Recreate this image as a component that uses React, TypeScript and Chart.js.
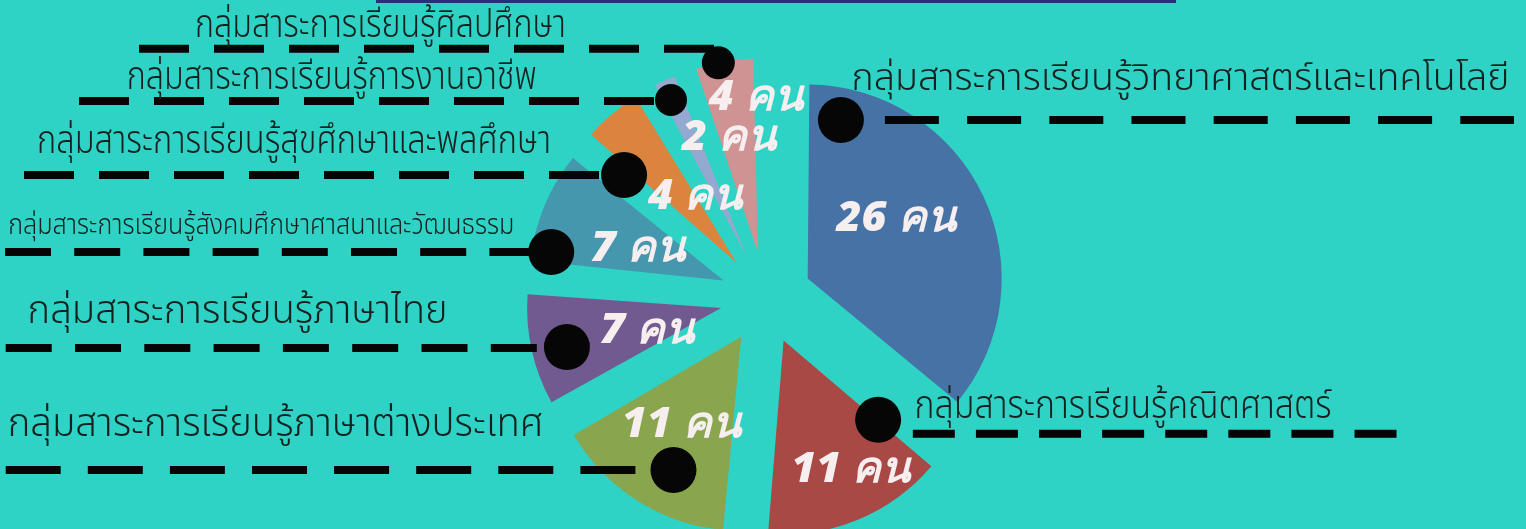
import React, { useEffect, useRef } from 'react';
import { Chart, registerables } from 'chart.js';

Chart.register(...registerables);

// ---------- data ----------
const categories = [
  'กลุ่มสาระการเรียนรู้วิทยาศาสตร์และเทคโนโลยี',
  'กลุ่มสาระการเรียนรู้คณิตศาสตร์',
  'กลุ่มสาระการเรียนรู้ภาษาต่างประเทศ',
  'กลุ่มสาระการเรียนรู้ภาษาไทย',
  'กลุ่มสาระการเรียนรู้สังคมศึกษาศาสนาและวัฒนธรรม',
  'กลุ่มสาระการเรียนรู้สุขศึกษาและพลศึกษา',
  'กลุ่มสาระการเรียนรู้การงานอาชีพ',
  'กลุ่มสาระการเรียนรู้ศิลปศึกษา',
];
const teachers = [26, 11, 11, 7, 7, 4, 2, 4];
const unit = 'คน';

// ---------- styles / layout ----------
const sliceColors = ['#4672a6', '#a84946', '#89a54e', '#705a8f', '#4497ad', '#db843d', '#93a9cf', '#d09393'];
const BG = '#2ed3c5';
const PIE_RADIUS = 194;
const EXPLODE = 46;
// value label: [fraction along slice angle, fraction of radius from slice tip]
const valuePos = [[0.43, 0.55], [0.41, 0.75], [0.53, 0.55], [0.36, 0.4], [0.43, 0.47], [0.89, 0.4], [2.16, 0.62], [0.96, 0.8]];
// dot anchor: same convention
const dotPos = [[0.091, 0.835], [0.0, 0.636], [0.4, 0.77], [0.45, 0.82], [0.124, 0.9], [-0.1, 0.735], [0.42, 0.895], [0.41, 1.0]];
const dotRadius = [23, 23, 23, 23, 23, 23, 16, 16.5];
// leader lines: side, vertical shift from dot, far end x (left side: start, right side: end), near gap, dash, gap
const lineSide = ['right', 'right', 'left', 'left', 'left', 'left', 'left', 'left'];
const lineDy = [0, 14, 0, 1, 0, 0, 1, -14];
const lineFar = [1514, 1397, 5.7, 5.7, 5, 24, 79, 139];
const lineNearGap = [44, 34.7, 0, 0, 0, 0, 0, 0];
const lineDash = [[54, 28.2], [42, 21.1], [55, 27.1], [46, 23.3], [46, 23.2], [50, 25], [50, 25], [50, 25]];
// category text: left x, target width, baseline distance above line, font size
const textX = [851.5, 914.6, 7.7, 27.6, 8.3, 37, 126.7, 195];
const textW = [658, 417, 536, 420, 506, 514, 410, 371];
const textGap = [30, 16, 34, 25, 18.4, 22, 12, 11.3];
const textSize = [37, 40, 40, 40, 28, 40, 40, 40];

function sliceGeom(arc: any) {
  const s = arc.startAngle;
  const e = arc.endAngle;
  const half = (s + e) / 2;
  const tipX = arc.x + Math.cos(half) * EXPLODE;
  const tipY = arc.y + Math.sin(half) * EXPLODE;
  return {
    at(t: number, rf: number) {
      const a = s + t * (e - s);
      return { x: tipX + Math.cos(a) * rf * PIE_RADIUS, y: tipY + Math.sin(a) * rf * PIE_RADIUS };
    },
  };
}

const flatOffset = {
  id: 'flatOffset',
  beforeDatasetsDraw(chart: any) {
    const meta = chart.getDatasetMeta(0);
    meta.data.forEach((arc: any) => {
      const circ = arc.endAngle - arc.startAngle;
      const fix = 1 - Math.sin(Math.min(Math.PI, circ));
      arc.outerRadius = PIE_RADIUS - EXPLODE * fix;
    });
  },
};

function scaledText(ctx: CanvasRenderingContext2D, text: string, x: number, y: number, width: number) {
  const m = ctx.measureText(text).width || 1;
  ctx.save();
  ctx.translate(x, y);
  ctx.scale(width / m, 1);
  ctx.fillText(text, 0, 0);
  ctx.restore();
}

const annotations = {
  id: 'annotations',
  afterDatasetsDraw(chart: any) {
    const ctx: CanvasRenderingContext2D = chart.ctx;
    const meta = chart.getDatasetMeta(0);
    ctx.save();
    // value labels
    ctx.fillStyle = '#f7efef';
    ctx.font = 'italic 900 43px "Noto Sans", sans-serif';
    ctx.textAlign = 'center';
    ctx.textBaseline = 'middle';
    meta.data.forEach((arc: any, i: number) => {
      const g = sliceGeom(arc);
      const p = g.at(valuePos[i][0], valuePos[i][1]);
      ctx.fillText(`${teachers[i]} ${unit}`, p.x, p.y);
    });
    // lines, dots, texts
    meta.data.forEach((arc: any, i: number) => {
      const g = sliceGeom(arc);
      const d = g.at(dotPos[i][0], dotPos[i][1]);
      const ly = d.y + lineDy[i];
      ctx.strokeStyle = '#050505';
      ctx.lineWidth = 8;
      ctx.lineCap = 'butt';
      ctx.setLineDash(lineDash[i]);
      ctx.beginPath();
      if (lineSide[i] === 'left') {
        ctx.moveTo(lineFar[i], ly);
        ctx.lineTo(d.x, ly);
      } else {
        ctx.moveTo(d.x + lineNearGap[i], ly);
        ctx.lineTo(lineFar[i], ly);
      }
      ctx.stroke();
      ctx.setLineDash([]);
      ctx.fillStyle = '#060606';
      ctx.beginPath();
      ctx.arc(d.x, d.y, dotRadius[i], 0, Math.PI * 2);
      ctx.fill();
      ctx.fillStyle = '#16211f';
      ctx.font = `300 ${textSize[i]}px "Noto Sans Thai", "Noto Sans", sans-serif`;
      ctx.textAlign = 'left';
      ctx.textBaseline = 'alphabetic';
      scaledText(ctx, categories[i], textX[i], ly - textGap[i], textW[i]);
    });
    ctx.restore();
  },
};

export default function App() {
  const ref = useRef<HTMLCanvasElement>(null);
  useEffect(() => {
    if (!ref.current) return;
    const chart = new Chart(ref.current, {
      type: 'pie',
      data: {
        labels: categories,
        datasets: [
          {
            data: teachers,
            backgroundColor: sliceColors,
            borderWidth: 0,
            offset: EXPLODE * 4,
            hoverOffset: 0,
          },
        ],
      },
      options: {
        animation: false,
        responsive: true,
        maintainAspectRatio: false,
        events: [],
        radius: PIE_RADIUS,
        layout: { padding: { top: 67, left: 6, right: 0, bottom: 0 } },
        plugins: { legend: { display: false }, tooltip: { enabled: false } },
      } as any,
      plugins: [flatOffset, annotations],
    });
    return () => chart.destroy();
  }, []);
  return (
    <div style={{ position: 'fixed', left: 0, top: 0, width: 1526, height: 529, background: BG, overflow: 'hidden' }}>
      <div style={{ position: 'absolute', left: 376, top: 0, width: 800, height: 3, background: '#23307a' }} />
      <canvas ref={ref} />
    </div>
  );
}
